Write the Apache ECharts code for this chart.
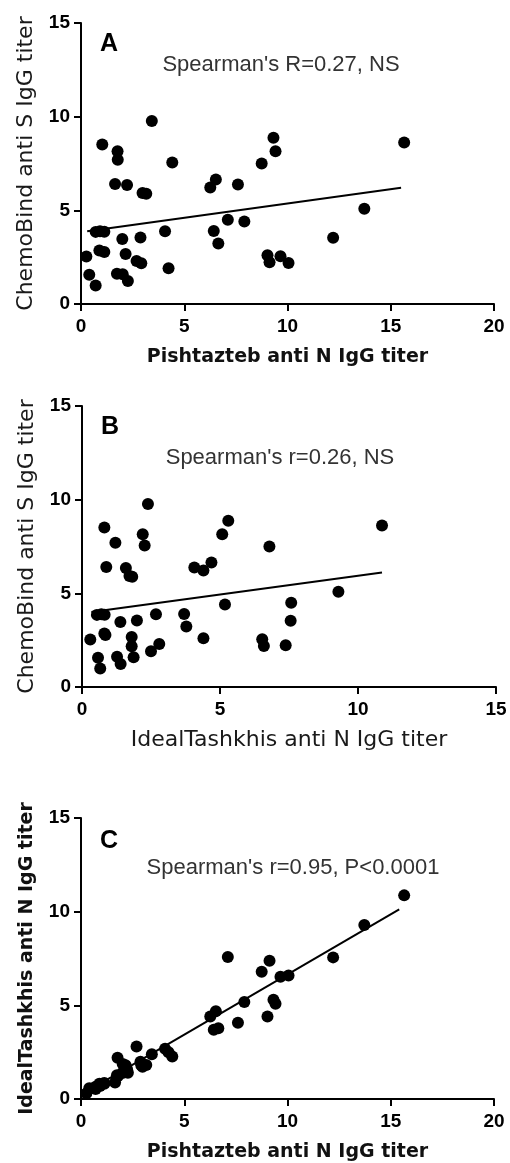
<!DOCTYPE html>
<html>
<head>
<meta charset="utf-8">
<script src="https://cdn.jsdelivr.net/npm/echarts@6.0.0/dist/echarts.min.js"></script>
<style>
  html, body { margin: 0; padding: 0; background: #fff; }
  #chart { width: 510px; height: 1163px; }
</style>
</head>
<body>
<div id="chart"></div>
<script>
// one entry per sample, same order in every array
const pishtazteb = [15.65, 9.32, 9.42, 8.75, 4.42, 3.43, 1.03, 1.77, 1.78, 1.65, 2.23, 2.98, 3.16, 6.26, 6.53,
  7.60, 13.72, 7.11, 7.91, 6.43, 6.65, 4.07, 12.21, 0.71, 0.92, 1.13, 2.00, 2.88, 0.26, 0.89, 1.13, 2.16,
  2.69, 2.92, 4.24, 0.40, 1.74, 2.02, 2.27, 0.71, 9.03, 9.13, 9.66, 10.05]
const idealTashkhis = [10.87, 5.30, 5.08, 6.79, 2.27, 2.39, 0.81, 2.20, 1.21, 0.88, 1.59, 1.72, 1.82, 4.40, 4.69,
  4.07, 9.29, 7.58, 5.18, 3.70, 3.78, 2.68, 7.56, 0.54, 0.70, 0.82, 1.39, 1.99, 0.30, 0.81, 0.85, 1.80,
  2.80, 1.80, 2.50, 0.58, 1.27, 1.87, 1.40, 0.66, 4.40, 7.38, 6.53, 6.59]
const chemoBind = [8.62, 8.88, 8.16, 7.50, 7.55, 9.77, 8.51, 8.15, 7.70, 6.41, 6.35, 5.92, 5.88, 6.22, 6.65,
  6.38, 5.09, 4.50, 4.40, 3.90, 3.23, 3.88, 3.54, 3.85, 3.88, 3.86, 3.47, 3.55, 2.53, 2.85, 2.78, 2.67,
  2.29, 2.17, 1.91, 1.56, 1.62, 1.59, 1.23, 0.99, 2.60, 2.23, 2.55, 2.19]

// fitted lines, end points
const fitA = [[0.3, 3.88], [15.5, 6.2]]
const fitB = [[0.34, 4.0], [10.87, 6.11]]
const fitC = [[0.1, 0.29], [15.41, 10.12]]

const yTicks = [0, 5, 10, 15]
const panelLetters = ['A', 'B', 'C']
const notes = ["Spearman's R=0.27, NS", "Spearman's r=0.26, NS", "Spearman's r=0.95, P<0.0001"]

const zip = (xs, ys) => xs.map((x, i) => [x, ys[i]])

const chart = echarts.init(document.getElementById('chart'))

const grids = [
  { left: 81, top: 23, width: 413, height: 281 },
  { left: 82, top: 406, width: 414, height: 281 },
  { left: 81, top: 818, width: 413, height: 282 }
]

const axisLine = { show: true, onZero: false, lineStyle: { color: '#000', width: 2 } }
const axisTick = { show: true, length: 7, lineStyle: { color: '#000', width: 2 } }
const tickLabel = { color: '#000', fontSize: 19, fontWeight: 'bold', fontFamily: 'Liberation Sans' }

const xAxis = (gridIndex, max, name, nameStyle, nameGap) => ({
  gridIndex, type: 'value', min: 0, max, interval: 5,
  axisLine, axisTick, splitLine: { show: false },
  axisLabel: { ...tickLabel, margin: 13 },
  name, nameLocation: 'middle', nameGap,
  nameTextStyle: nameStyle
})

const yAxis = (gridIndex, name, nameStyle) => ({
  gridIndex, type: 'value', min: yTicks[0], max: yTicks[yTicks.length - 1], interval: 5,
  axisLine, axisTick, splitLine: { show: false },
  axisLabel: { ...tickLabel, margin: 11 },
  name, nameLocation: 'middle', nameGap: 44,
  nameTextStyle: nameStyle
})

const boldTitle = { color: '#111', fontSize: 19, fontWeight: 'bold', fontFamily: 'DejaVu Sans' }
const plainTitle = { color: '#1a1a1a', fontSize: 22, fontFamily: 'DejaVu Sans' }

const scatter = (i, data) => ({
  type: 'scatter', xAxisIndex: i, yAxisIndex: i, data,
  symbolSize: 12, itemStyle: { color: '#000', opacity: 1 }, clip: false
})
const fit = (i, data) => ({
  type: 'line', xAxisIndex: i, yAxisIndex: i, data,
  showSymbol: false, lineStyle: { color: '#000', width: 2 }, z: 1
})

const letterPos = [[109, 44], [110, 427], [109, 841]]
const notePos = [[281, 65], [280, 458], [293, 868]]

const graphic = []
panelLetters.forEach((t, i) => {
  graphic.push({
    type: 'text', x: letterPos[i][0], y: letterPos[i][1],
    style: { text: t, fontSize: 25, fontWeight: 'bold', fontFamily: 'Liberation Sans', fill: '#000', align: 'center', verticalAlign: 'middle' }
  })
})
notes.forEach((t, i) => {
  graphic.push({
    type: 'text', x: notePos[i][0], y: notePos[i][1],
    style: { text: t, fontSize: 22, fontFamily: 'Liberation Sans', fill: '#333', align: 'center', verticalAlign: 'middle' }
  })
})

chart.setOption({
  animation: false,
  backgroundColor: '#fff',
  grid: grids,
  xAxis: [
    xAxis(0, 20, 'Pishtazteb anti N IgG titer', boldTitle, 44),
    xAxis(1, 15, 'IdealTashkhis anti N IgG titer', plainTitle, 42),
    xAxis(2, 20, 'Pishtazteb anti N IgG titer', boldTitle, 44)
  ],
  yAxis: [
    yAxis(0, 'ChemoBind anti S IgG titer', plainTitle),
    yAxis(1, 'ChemoBind anti S IgG titer', plainTitle),
    yAxis(2, 'IdealTashkhis anti N IgG titer', boldTitle)
  ],
  series: [
    scatter(0, zip(pishtazteb, chemoBind)),
    fit(0, fitA),
    scatter(1, zip(idealTashkhis, chemoBind)),
    fit(1, fitB),
    scatter(2, zip(pishtazteb, idealTashkhis)),
    fit(2, fitC)
  ],
  graphic
})

window.addEventListener('resize', () => chart.resize())
</script>
</body>
</html>
